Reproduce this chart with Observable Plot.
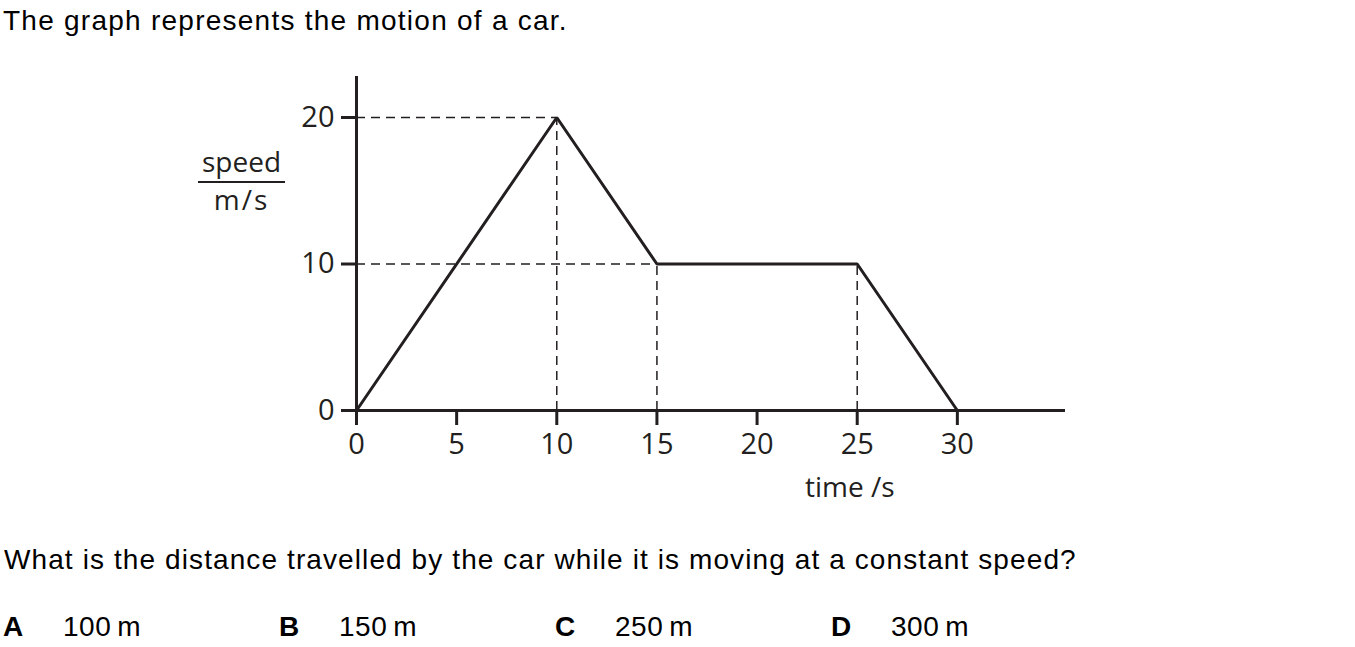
<!DOCTYPE html>
<html>
<head>
<meta charset="utf-8">
<script src="https://cdn.jsdelivr.net/npm/d3@7"></script>
<script src="https://cdn.jsdelivr.net/npm/@observablehq/plot@0.6"></script>
<style>
  html, body { margin: 0; padding: 0; background: #fff; }
  #page { position: relative; width: 1355px; height: 647px; overflow: hidden; }
  .q { position: absolute; font-family: "Liberation Sans", Arial, sans-serif; font-size: 28px; line-height: 28px; color: #000; white-space: nowrap; letter-spacing: 1.1px; }
  .ans { position: absolute; font-family: "Liberation Sans", Arial, sans-serif; font-size: 28px; line-height: 28px; color: #000; white-space: nowrap; letter-spacing: 0.5px; }
  .ans b { font-weight: bold; }
  .lbl { position: absolute; font-family: "Open Sans", sans-serif; font-size: 28px; line-height: 28px; color: #231f20; white-space: nowrap; }
  #chart { position: absolute; left: 0; top: 50px; }
</style>
</head>
<body>
<div id="page">
  <div class="q" id="title" style="left:3px; top:7px; letter-spacing:1.25px;"></div>
  <div id="chart"></div>
  <div class="lbl" id="ylab1" style="left:198px; width:87px; text-align:center; top:147px;"></div>
  <div id="ybar" style="position:absolute; left:198px; width:87px; top:181px; height:2px; background:#231f20;"></div>
  <div class="lbl" id="ylab2" style="left:198px; width:87px; text-align:center; top:185px; letter-spacing:2px;"></div>
  <div class="lbl" id="xlab" style="left:805px; top:472px;"></div>
  <div class="q" id="question" style="left:4px; top:546px;"></div>
  <div id="answers"></div>
</div>
<script>
// ---- data ----
const titleText = "The graph represents the motion of a car.";
const questionText = "What is the distance travelled by the car while it is moving at a constant speed?";
const optionLetters = ["A", "B", "C", "D"];
const optionValues = ["100\u2009m", "150\u2009m", "250\u2009m", "300\u2009m"];
const yLabelTop = "speed";
const yLabelBottom = "m/s";
const xLabel = "time /s";

const times = [0, 10, 15, 25, 30];
const speeds = [0, 20, 10, 10, 0];
const xTicks = [0, 5, 10, 15, 20, 25, 30];
const yTicks = [0, 10, 20];
const hGuideIdx = [1, 2];      // points with horizontal dashed guides to the speed axis
const vGuideIdx = [1, 2, 3];   // points with vertical dashed guides to the time axis

// ---- config ----
const xMax = 35.4;
const yMax = 22.8;
const ink = "#231f20";

const pts = times.map((t, i) => ({t, v: speeds[i]}));
const hGuides = hGuideIdx.map(i => pts[i]);
const vGuides = vGuideIdx.map(i => pts[i]);

document.getElementById("title").textContent = titleText;
document.getElementById("question").textContent = questionText;
document.getElementById("ylab1").textContent = yLabelTop;
document.getElementById("ylab2").textContent = yLabelBottom;
document.getElementById("xlab").textContent = xLabel;

const ansWrap = document.getElementById("answers");
const letterX = [3, 279, 555, 831];
optionLetters.forEach((L, i) => {
  const a = document.createElement("div");
  a.className = "ans";
  a.style.left = letterX[i] + "px";
  a.style.top = "613px";
  a.innerHTML = "<b></b>";
  a.querySelector("b").textContent = L;
  ansWrap.appendChild(a);
  const v = document.createElement("div");
  v.className = "ans";
  v.style.left = (letterX[i] + 60) + "px";
  v.style.top = "613px";
  v.textContent = optionValues[i];
  ansWrap.appendChild(v);
});

const chart = Plot.plot({
  width: 1355,
  height: 470,
  marginLeft: 356,
  marginRight: 290,
  marginTop: 26,
  marginBottom: 110,
  style: {fontFamily: "'Open Sans', sans-serif", fontSize: "29px", color: ink, background: "transparent"},
  x: {domain: [0, xMax]},
  y: {domain: [0, yMax]},
  marks: [
    Plot.ruleY(hGuides, {y: "v", x1: 0, x2: "t", stroke: ink, strokeWidth: 1.5, strokeDasharray: "9,6"}),
    Plot.ruleX(vGuides, {x: "t", y1: 0, y2: "v", stroke: ink, strokeWidth: 1.5, strokeDasharray: "9,6"}),
    Plot.ruleX([0], {stroke: ink, strokeWidth: 3}),
    Plot.ruleY([0], {stroke: ink, strokeWidth: 3}),
    Plot.axisX(xTicks, {tickSize: 15, tickPadding: 8, strokeWidth: 3, label: null, stroke: ink, fill: ink}),
    Plot.axisY(yTicks, {tickSize: 15, tickPadding: 7, strokeWidth: 3, label: null, stroke: ink, fill: ink}),
    Plot.line(pts, {x: "t", y: "v", stroke: ink, strokeWidth: 3, strokeLinejoin: "miter"})
  ]
});
document.getElementById("chart").appendChild(chart);
</script>
</body>
</html>
